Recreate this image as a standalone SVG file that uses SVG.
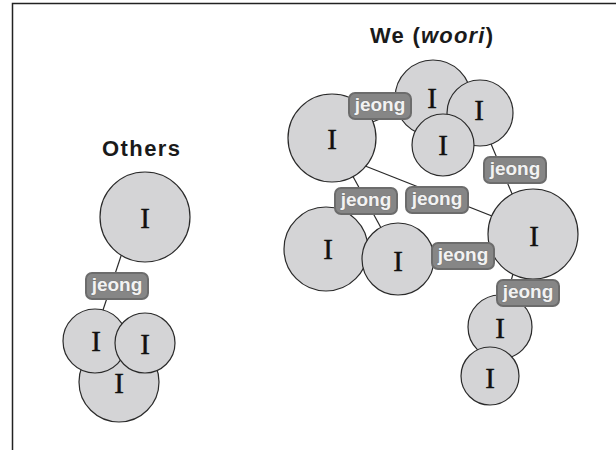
<svg xmlns="http://www.w3.org/2000/svg" width="616" height="450" viewBox="0 0 616 450">
<style>
.title{font-family:"Liberation Sans",Arial,sans-serif;font-weight:bold;font-size:22px;fill:#1a1a1a}
.n circle{fill:#d4d4d6;stroke:#2a2a2a;stroke-width:1.2}
.n text{font-family:"Liberation Serif","Times New Roman",serif;font-size:29px;fill:#111;stroke:#111;stroke-width:0.4;text-anchor:middle}
#connectors line{stroke:#2a2a2a;stroke-width:1.2}
.lbl rect{fill:#868686;stroke:#6c6c6c;stroke-width:2}
.lbl text{font-family:"Liberation Sans",Arial,sans-serif;font-weight:bold;font-size:19px;fill:#f2f2f2;stroke:#7a7a7a;stroke-width:1.2;paint-order:stroke;text-anchor:middle}
</style>
<rect width="616" height="450" fill="#ffffff"/>
<path d="M12.5 450 V3.5 H616" fill="none" stroke="#222" stroke-width="1.5"/>
<text class="title" x="102" y="156" textLength="78" lengthAdjust="spacing">Others</text>
<text class="title" x="370" y="43" textLength="123" lengthAdjust="spacing">We (<tspan font-style="italic">woori</tspan>)</text>
<g id="connectors">
<line x1="128" y1="235" x2="98" y2="325"/>
<line x1="332" y1="138" x2="433" y2="98"/>
<line x1="478" y1="113" x2="529" y2="234"/>
<line x1="350" y1="160" x2="520" y2="227"/>
<line x1="332" y1="138" x2="398" y2="259"/>
<line x1="420" y1="263" x2="520" y2="235"/>
<line x1="518" y1="255" x2="506" y2="300"/>
</g>
<g id="others-bottom" class="n"><circle cx="119" cy="382" r="40"/><text x="119" y="393">I</text></g>
<g id="others-left" class="n"><circle cx="95" cy="341" r="32"/><text x="96" y="351">I</text></g>
<g id="others-right" class="n"><circle cx="145" cy="343" r="30"/><text x="145" y="354">I</text></g>
<g id="others-top" class="n"><circle cx="145" cy="217" r="45"/><text x="145" y="228">I</text></g>
<g id="we-bigleft" class="n"><circle cx="332" cy="138" r="44"/><text x="332" y="149">I</text></g>
<g id="we-top" class="n"><circle cx="433" cy="98" r="38"/><text x="432" y="108">I</text></g>
<g id="we-topright" class="n"><circle cx="480" cy="113" r="33"/><text x="479" y="120">I</text></g>
<g id="we-topmid" class="n"><circle cx="443" cy="145" r="31"/><text x="443" y="155">I</text></g>
<g id="we-lowleft" class="n"><circle cx="326" cy="249" r="42"/><text x="328" y="259">I</text></g>
<g id="we-lowmid" class="n"><circle cx="398" cy="259" r="36"/><text x="398" y="271">I</text></g>
<g id="we-bigright" class="n"><circle cx="533" cy="234" r="45"/><text x="534" y="246">I</text></g>
<g id="we-low1" class="n"><circle cx="500" cy="327" r="32"/><text x="500" y="338">I</text></g>
<g id="we-low2" class="n"><circle cx="490" cy="376" r="29"/><text x="490" y="388">I</text></g>
<g id="labels">
<g class="lbl"><rect x="86" y="273" width="62" height="26" rx="6"/><text x="117" y="291">jeong</text></g>
<g class="lbl"><rect x="349" y="93" width="62" height="26" rx="6"/><text x="380" y="111">jeong</text></g>
<g class="lbl"><rect x="484" y="157" width="62" height="26" rx="6"/><text x="515" y="175">jeong</text></g>
<g class="lbl"><rect x="406" y="187" width="62" height="26" rx="6"/><text x="437" y="205">jeong</text></g>
<g class="lbl"><rect x="335" y="188" width="62" height="26" rx="6"/><text x="366" y="206">jeong</text></g>
<g class="lbl"><rect x="432" y="243" width="62" height="26" rx="6"/><text x="463" y="261">jeong</text></g>
<g class="lbl"><rect x="497" y="280" width="62" height="26" rx="6"/><text x="528" y="298">jeong</text></g>
</g>
</svg>
